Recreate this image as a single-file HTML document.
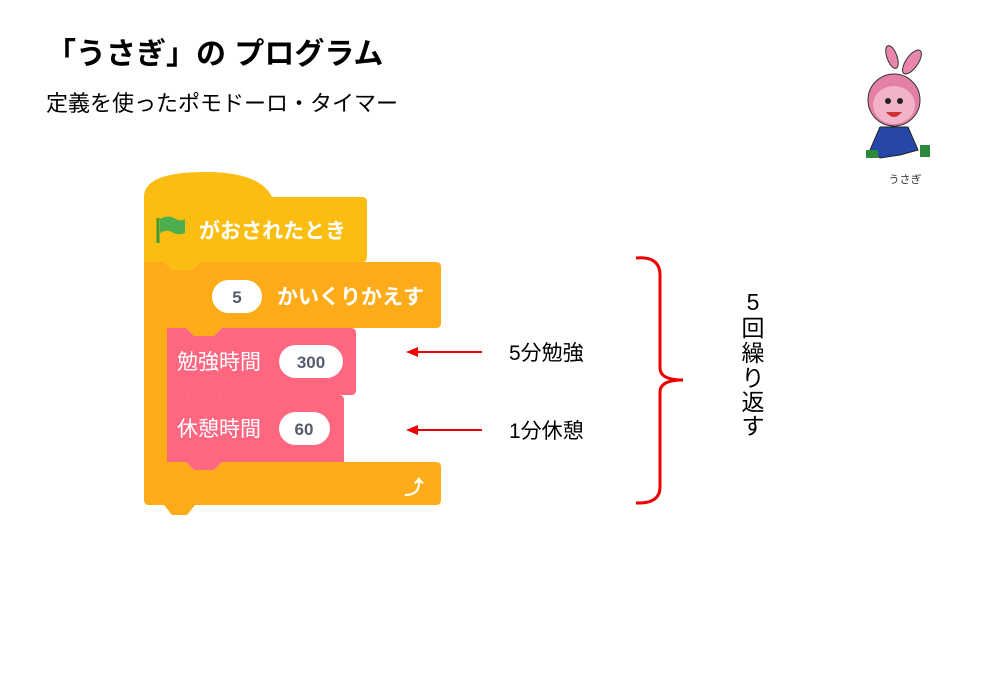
<!DOCTYPE html>
<html><head><meta charset="utf-8"><style>
body{margin:0;background:#fff;width:1000px;height:692px;overflow:hidden}
svg text{font-family:"Liberation Sans","Noto Sans CJK JP",sans-serif}
</style></head><body>
<svg width="1000" height="692" viewBox="0 0 1000 692" xmlns="http://www.w3.org/2000/svg">
<text x="46" y="64" font-size="30" font-weight="bold" fill="#000">「うさぎ」の プログラム</text>
<text x="46" y="111" font-size="22" fill="#000">定義を使ったポモドーロ・タイマー</text>

<!-- rabbit -->
<g>
<ellipse cx="892" cy="57" rx="5" ry="12" fill="#e986ad" stroke="#333" stroke-width="1" transform="rotate(-20 892 57)"/>
<ellipse cx="912" cy="62" rx="6" ry="14" fill="#e986ad" stroke="#333" stroke-width="1" transform="rotate(35 912 62)"/>
<circle cx="894" cy="100" r="26" fill="#e47fa6" stroke="#333" stroke-width="1"/>
<ellipse cx="894" cy="105" rx="21" ry="19" fill="#f2b3c8"/>
<circle cx="888" cy="101" r="3" fill="#222"/><circle cx="900" cy="101" r="3" fill="#222"/>
<path d="M886 112 Q894 122 902 112 Z" fill="#c33"/>
<path d="M880 127 L908 127 L918 150 L900 155 L880 158 L870 150 Z" fill="#2747a8" stroke="#222" stroke-width="1"/>
<rect x="866" y="150" width="12" height="8" fill="#2a8a3a"/><rect x="920" y="145" width="10" height="12" fill="#2a8a3a"/>
<text x="905" y="183" font-size="11" text-anchor="middle" fill="#333">うさぎ</text>
</g>

<!-- hat block -->
<path d="M144 197 Q144 172 205 172 Q260 172 272 197 L362 197 Q367 197 367 202 L367 257 Q367 262 362 262 L200 262 L192 270 L172 270 L164 262 L144 262 Z" fill="#fbbd12"/>
<path d="M158 218 L158 243" stroke="#3a9c3a" stroke-width="3"/>
<path d="M160 219 Q168 214 176 219 Q181 222 185 219 L185 233 Q178 236 172 232 Q166 229 160 233 Z" fill="#4cae4c"/>
<text x="199" y="238" font-size="21" font-weight="bold" fill="#fff">がおされたとき</text>

<!-- repeat block -->
<path d="M144 262 L164 262 L172 270 L192 270 L200 262 L436 262 Q441 262 441 267 L441 323 Q441 328 436 328 L222 328 L214 336 L194 336 L186 328 L167 328 L167 462 L186 462 L194 470 L214 470 L222 462 L436 462 Q441 462 441 467 L441 500 Q441 505 436 505 L195 505 L187 515 L172 515 L164 505 L149 505 Q144 505 144 500 Z" fill="#fdab18"/>
<rect x="212" y="280" width="50" height="33" rx="16.5" fill="#fff"/>
<text x="237" y="303" font-size="17" font-weight="bold" fill="#555b6e" text-anchor="middle">5</text>
<text x="277" y="304" font-size="21" font-weight="bold" fill="#fff">かいくりかえす</text>
<text x="414" y="494" font-size="20" font-weight="bold" fill="#fff" text-anchor="middle">⤴</text>

<!-- pink blocks -->
<path d="M167 328 L186 328 L194 336 L214 336 L222 328 L351 328 Q356 328 356 333 L356 390 Q356 395 351 395 L222 395 L214 403 L194 403 L186 395 L167 395 Z" fill="#ff6680"/>
<rect x="279" y="345" width="64" height="33" rx="16.5" fill="#fff"/>
<text x="311" y="368" font-size="17" font-weight="bold" fill="#555b6e" text-anchor="middle">300</text>
<text x="177" y="369" font-size="21" fill="#fff">勉強時間</text>
<path d="M167 395 L186 395 L194 403 L214 403 L222 395 L339 395 Q344 395 344 400 L344 462 L222 462 L214 470 L194 470 L186 462 L167 462 Z" fill="#ff6680"/>
<rect x="279" y="412" width="51" height="33" rx="16.5" fill="#fff"/>
<text x="304" y="435" font-size="17" font-weight="bold" fill="#555b6e" text-anchor="middle">60</text>
<text x="177" y="436" font-size="21" fill="#fff">休憩時間</text>

<!-- arrows -->
<line x1="416" y1="352" x2="482" y2="352" stroke="#e00" stroke-width="2"/>
<path d="M406 352 L418 347 L418 357 Z" fill="#e00"/>
<line x1="416" y1="430" x2="482" y2="430" stroke="#e00" stroke-width="2"/>
<path d="M406 430 L418 425 L418 435 Z" fill="#e00"/>
<text x="509" y="360" font-size="21" fill="#000">5分勉強</text>
<text x="509" y="438" font-size="21" fill="#000">1分休憩</text>

<!-- brace -->
<path d="M636 258 Q660 256 660 275 L660 368 Q660 380 683 380 Q660 380 660 392 L660 487 Q660 504 636 503" fill="none" stroke="#e00" stroke-width="3"/>
<g font-size="23" fill="#000" text-anchor="middle">
<text x="753" y="310">5</text>
<text x="753" y="336">回</text>
<text x="753" y="361">繰</text>
<text x="753" y="386">り</text>
<text x="753" y="410">返</text>
<text x="753" y="434">す</text>
</g>
</svg>
</body></html>
